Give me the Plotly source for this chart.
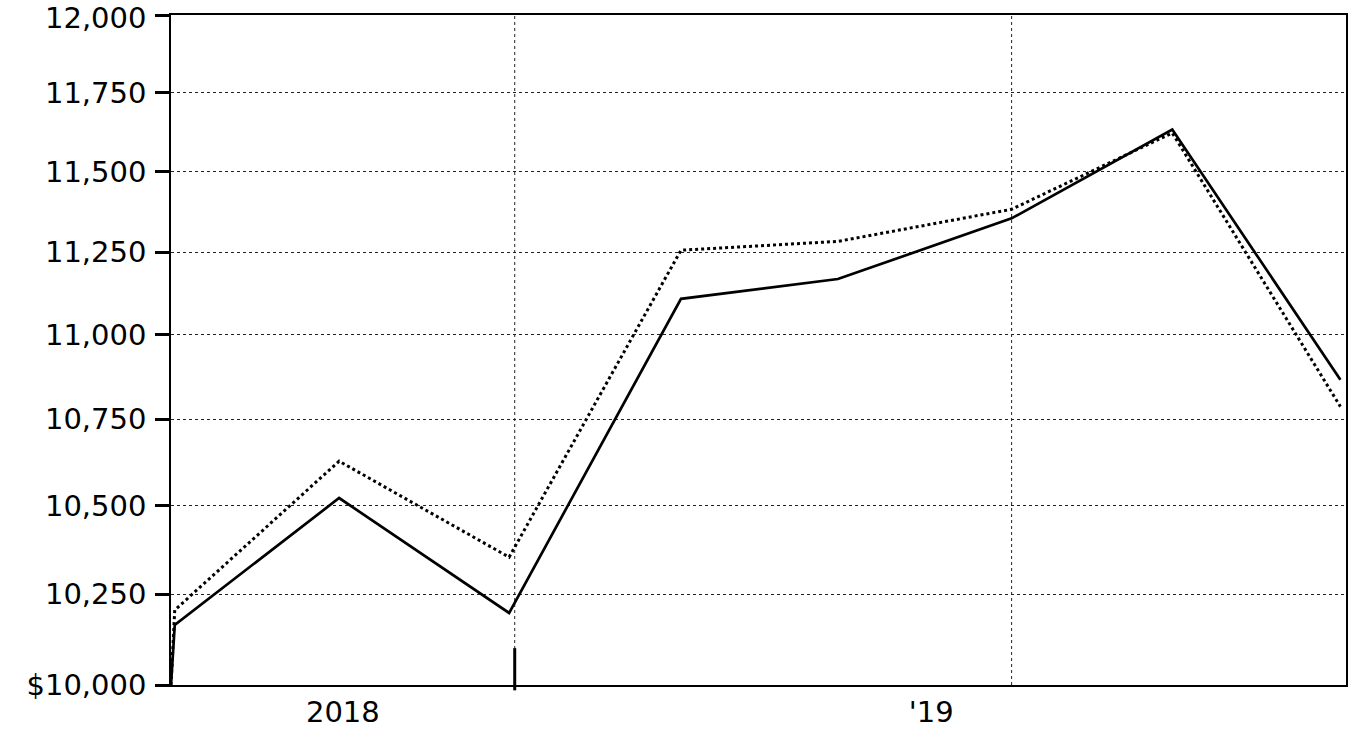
import plotly.graph_objects as go
import math

# Data
dates = ["2018-01-01", "2018-01-03", "2018-04-01", "2018-07-01", "2018-10-01",
         "2018-12-24", "2019-03-27", "2019-06-21", "2019-09-19"]
fund = [10000, 10165, 10522, 10198, 11108, 11168, 11354, 11632, 10866]
benchmark = [10000, 10206, 10628, 10354, 11256, 11283, 11382, 11621, 10787]

y_ticks = [10000, 10250, 10500, 10750, 11000, 11250, 11500, 11750, 12000]
y_tick_labels = ["$10,000", "10,250", "10,500", "10,750", "11,000", "11,250",
                 "11,500", "11,750", "12,000"]
x_range = ["2018-01-01", "2019-09-22"]
year_label_dates = ["2018-04-03", "2019-02-12"]
year_labels = ["2018", "'19"]
grid_dates = ["2018-07-04", "2019-03-27"]
marker_date = "2018-07-04"

FONT = "DejaVu Sans"
FS = 29

fig = go.Figure()
fig.add_trace(go.Scatter(x=dates, y=benchmark, mode="lines",
                         line=dict(color="black", width=3, dash="dot"),
                         showlegend=False, cliponaxis=False))
fig.add_trace(go.Scatter(x=dates, y=fund, mode="lines",
                         line=dict(color="black", width=2.7),
                         showlegend=False, cliponaxis=False))

for gd in grid_dates:
    fig.add_shape(type="line", xref="x", yref="paper", x0=gd, x1=gd, y0=0, y1=1,
                  line=dict(color="#222", width=1, dash="dot"), layer="below")

fig.add_shape(type="line", xref="x", yref="paper", x0=marker_date, x1=marker_date,
              y0=-0.008, y1=0.055, line=dict(color="black", width=3))

# Top tick label drawn as annotation so it stays inside the page
shown_labels = y_tick_labels[:-1] + [""]
fig.add_annotation(x=0, xref="paper", y=math.log10(y_ticks[-1]), yref="y",
                   text=y_tick_labels[-1], showarrow=False,
                   xanchor="right", yanchor="top", xshift=-23, yshift=16,
                   font=dict(family=FONT, size=FS, color="black"))

fig.update_layout(
    width=1363, height=740,
    margin=dict(l=171, r=17, t=15, b=55),
    paper_bgcolor="white", plot_bgcolor="white",
    font=dict(family=FONT, size=FS, color="black"),
    xaxis=dict(
        type="date", range=x_range, automargin=False,
        tickmode="array", tickvals=year_label_dates, ticktext=year_labels,
        ticks="", showgrid=False, zeroline=False,
        showline=True, linecolor="black", linewidth=1.5, mirror=True,
        tickfont=dict(family=FONT, size=FS, color="black"),
        ticklabeloverflow="allow",
    ),
    yaxis=dict(
        type="log", range=[4 - 1e-7, math.log10(12000) + 1e-7], automargin=False,
        tickmode="array", tickvals=y_ticks, ticktext=shown_labels,
        ticks="outside", ticklen=14, tickwidth=3, tickcolor="black",
        ticklabelstandoff=3, ticklabeloverflow="allow",
        showgrid=True, gridcolor="#222", gridwidth=1, griddash="dot",
        zeroline=False,
        showline=True, linecolor="black", linewidth=1.5, mirror=True,
        tickfont=dict(family=FONT, size=FS, color="black"),
    ),
)

fig.write_html(
    "out.html",
    config={"displayModeBar": False},
    post_script="document.body.style.margin='0';document.body.style.overflow='hidden';",
)
